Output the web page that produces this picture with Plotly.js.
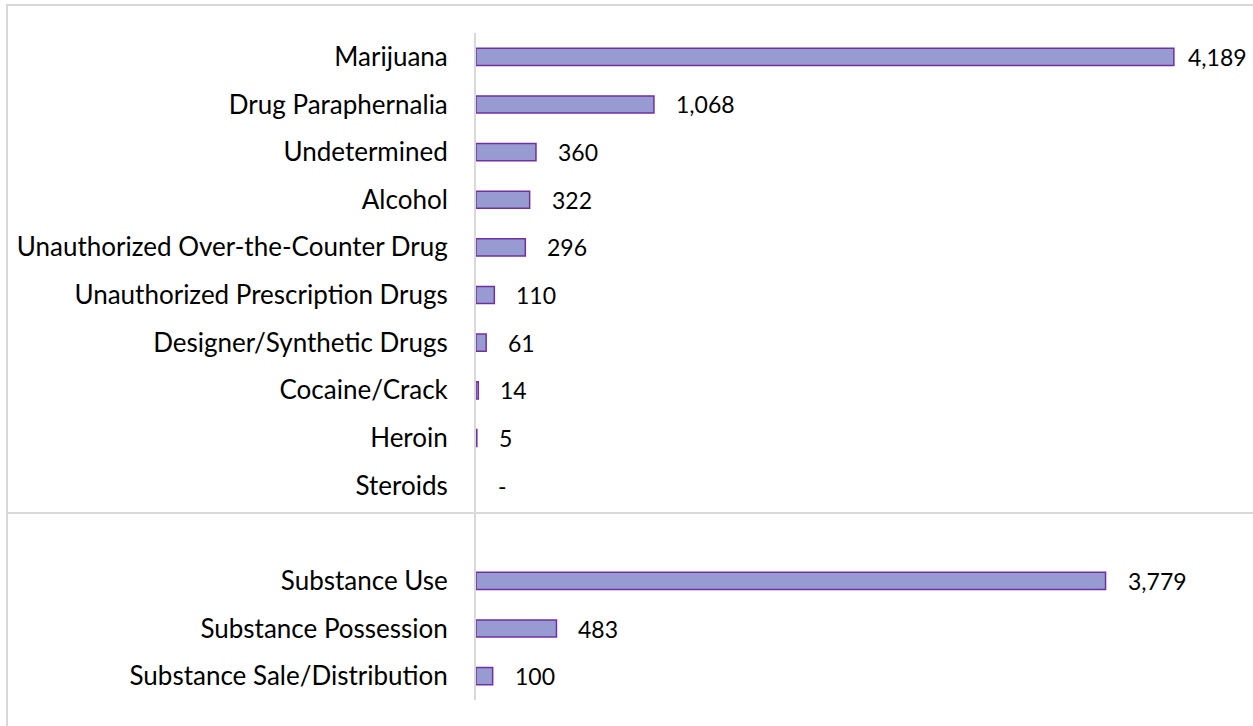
<!DOCTYPE html>
<html>
<head>
<meta charset="utf-8">
<script src="https://cdn.plot.ly/plotly-3.0.1.min.js"></script>
<style>html,body{margin:0;padding:0;background:#fff;}#chart{width:1253px;height:726px;}</style>
</head>
<body>
<div id="chart"></div>
<script>
// Data
var drugCategories = ["Marijuana", "Drug Paraphernalia", "Undetermined", "Alcohol",
  "Unauthorized Over-the-Counter Drug", "Unauthorized Prescription Drugs",
  "Designer/Synthetic Drugs", "Cocaine/Crack", "Heroin", "Steroids"];
var drugValues = [4189, 1068, 360, 322, 296, 110, 61, 14, 5, 0];
var actionCategories = ["Substance Use", "Substance Possession", "Substance Sale/Distribution"];
var actionValues = [3779, 483, 100];
var gapCategory = " ";

var categories = drugCategories.concat([gapCategory], actionCategories);
var values = drugValues.concat([null], actionValues);
var maxValue = Math.max.apply(null, values.filter(function (v) { return v !== null; }));

function fmt(v) { return v === 0 ? "-" : v.toLocaleString("en-US"); }

var FONT = "Lato, 'Open Sans', sans-serif";

var trace = {
  type: "bar",
  orientation: "h",
  y: categories,
  x: values,
  width: 0.36,
  marker: {
    color: "#989bd2",
    line: { color: "#7030a0", width: values.map(function (v) { return v ? 1.5 : 0; }) }
  },
  hoverinfo: "skip"
};

var annotations = [];
categories.forEach(function (c, i) {
  if (values[i] === null) return;
  annotations.push({
    x: values[i], y: c, xref: "x", yref: "y",
    text: fmt(values[i]), showarrow: false,
    xanchor: "left", yanchor: "middle",
    // longest label is pulled in closer to its bar so it stays inside the chart
    xshift: values[i] === maxValue ? 12 : 20,
    font: { family: FONT, size: 23, color: "#000" }
  });
});

var layout = {
  width: 1253, height: 726,
  margin: { l: 476, r: 11, t: 33, b: 26, pad: 0 },
  paper_bgcolor: "#fff", plot_bgcolor: "#fff",
  showlegend: false,
  xaxis: { range: [0, 4598], visible: false, showgrid: false, zeroline: false, fixedrange: true },
  yaxis: {
    type: "category", categoryorder: "array", categoryarray: categories,
    range: [categories.length - 0.5, -0.5],
    showgrid: false, zeroline: false,
    showline: true, linecolor: "#d9d9d9", linewidth: 2,
    ticks: "outside", ticklen: 21, tickcolor: "rgba(0,0,0,0)",
    tickfont: { family: FONT, size: 26, color: "#000" },
    fixedrange: true
  },
  annotations: annotations,
  shapes: [
    { type: "rect", xref: "paper", yref: "paper", x0: -0.6123, x1: 1.05, y0: -0.1, y1: 1.042,
      line: { color: "#d9d9d9", width: 2 }, fillcolor: "rgba(0,0,0,0)", layer: "below" },
    { type: "line", xref: "paper", yref: "paper", x0: -0.6123, x1: 1.05, y0: 0.2804, y1: 0.2804,
      line: { color: "#d9d9d9", width: 2 }, layer: "below" }
  ]
};

Plotly.newPlot("chart", [trace], layout, { displayModeBar: false, staticPlot: true });
</script>
</body>
</html>
